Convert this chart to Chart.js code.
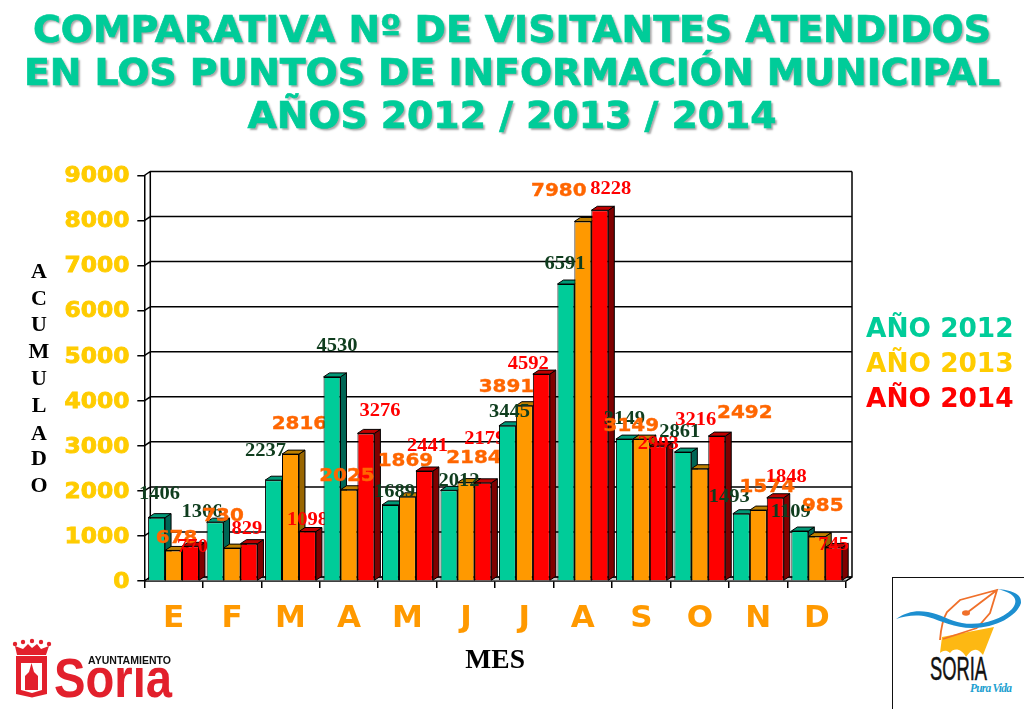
<!DOCTYPE html>
<html lang="es">
<head>
<meta charset="utf-8">
<title>Comparativa visitantes</title>
<script src="https://cdn.jsdelivr.net/npm/chart.js@4"></script>
<style>
    html, body { margin: 0; padding: 0; background: #fff; }
    #lienzo { position: relative; width: 1024px; height: 709px; overflow: hidden; }
    canvas { position: absolute; left: 0; top: 0; }
    .texto { position: absolute; font-family: "DejaVu Sans", sans-serif; font-weight: bold; }
    #titulo { left: 0; top: 7.5px; width: 1024px; text-align: center; font-size: 37.8px; line-height: 43.2px;
        color: #00cc99; -webkit-text-stroke: 0.7px #00cc99; text-shadow: 2px 2px 2px #a8a8a8; white-space: nowrap; }
    .leyenda { left: 866px; font-size: 26.4px; line-height: 30px; white-space: nowrap; }
    .vertical { left: 24px; width: 30px; text-align: center; font-family: "Liberation Serif", serif;
        font-size: 22px; line-height: 24px; color: #000; }
    svg { position: absolute; }
</style>
</head>
<body>
<div id="lienzo">
    <canvas id="grafico" width="1024" height="709"></canvas>
    <div id="titulo" class="texto">COMPARATIVA Nº DE VISITANTES ATENDIDOS<br>EN LOS PUNTOS DE INFORMACIÓN MUNICIPAL<br>AÑOS 2012 / 2013 / 2014</div>
    <div class="texto leyenda" style="top:313px;color:#00cc99">AÑO 2012</div>
    <div class="texto leyenda" style="top:348px;color:#ffcc00">AÑO 2013</div>
    <div class="texto leyenda" style="top:383px;color:#ff0000">AÑO 2014</div>
    <div id="acumulado"></div>

    <!-- logo ayuntamiento -->
    <svg style="left:0;top:630px" width="190" height="79" viewBox="0 0 190 79">
        <g fill="#e2202c">
            <path d="M17 25 L15 16 L23 19 L28 14 L32 18 L37 14 L41 19 L49 16 L46 25 Z"/>
            <circle cx="15" cy="14" r="2.2"/><circle cx="23" cy="12" r="2.2"/><circle cx="32" cy="11" r="2.2"/><circle cx="41" cy="12" r="2.2"/><circle cx="49" cy="14" r="2.2"/>
            <path d="M16 26 H47 V64 L32 67.5 L16 64 Z"/>
        </g>
        <path d="M21 33 H42 V60 L32 63 L21 60 Z" fill="#fff"/>
        <path d="M31.5 33 L34 42 L38 46 V60 H25 V46 L29 42 Z" fill="#e2202c"/>
        <text x="54" y="67" font-family="Liberation Sans" font-weight="bold" font-size="56" fill="#e2202c" textLength="118" lengthAdjust="spacingAndGlyphs">Soria</text>
        <rect x="88" y="22" width="90" height="15.5" fill="#fff"/>
        <text x="88" y="33.5" font-family="Liberation Sans" font-weight="bold" font-size="10.5" fill="#111" textLength="83" lengthAdjust="spacingAndGlyphs">AYUNTAMIENTO</text>
    </svg>

    <!-- logo soria pura vida -->
    <svg style="left:892px;top:577px" width="132" height="132" viewBox="0 0 132 132">
        <rect x="0.5" y="0.5" width="140" height="140" fill="#fff" stroke="#111" stroke-width="1"/>
        <path d="M50 60 L102 50 L91 78 C84 68 78 74 74 80 C70 72 62 70 58 76 C54 72 50 74 48 76 Z" fill="#fdb813"/>
        <path d="M48 63 C49 50 52 40 55 35 L68 23 L105 13 L98 36 L85 51 M51 62 L85 51 M105 13 L76 35" fill="none" stroke="#f0702a" stroke-width="1.8"/>
        <ellipse cx="74" cy="36" rx="4" ry="2.8" fill="#f0702a"/>
        <path d="M4 42 C14 35 24 33 36 35 C48 37 58 44 70 46 C86 49 108 44 120 32 C127 24 124 16 105 12 C118 13 130 16 129 26 C125 39 104 51 80 51 C62 51 50 44 36 40 C24 37 14 39 4 42 Z" fill="#1d8fd0"/>
        <text x="38" y="103" font-family="Liberation Sans" font-size="34" fill="#111" stroke="#111" stroke-width="0.5" textLength="57" lengthAdjust="spacingAndGlyphs">SORIA</text>
        <text x="78" y="115" font-family="Liberation Serif" font-style="italic" font-weight="bold" font-size="11.5" fill="#1d9fd0" textLength="42" lengthAdjust="spacing">Pura Vida</text>
    </svg>
</div>
<script>
// Datos del gráfico
const meses = ['E', 'F', 'M', 'A', 'M', 'J', 'J', 'A', 'S', 'O', 'N', 'D'];
const valores2012 = [1406, 1306, 2237, 4530, 1689, 2012, 3445, 6591, 3149, 2861, 1493, 1109];
const valores2013 = [678, 730, 2816, 2025, 1869, 2184, 3891, 7980, 3149, 2492, 1574, 985];
const valores2014 = [770, 829, 1098, 3276, 2441, 2179, 4592, 8228, 2993, 3216, 1848, 745];
const letrasEje = ['A', 'C', 'U', 'M', 'U', 'L', 'A', 'D', 'O'];

// Desplazamiento de cada etiqueta respecto a la parte alta de su barra [dx, dy]
const despl2012 = [[3,-24],[-13,-10],[-8,-29],[5,-31],[4,-13],[10,-9],[2,-14],[-1,-20],[0,-20],[-3,-20],[-12,-17],[-9,-19]];
const despl2013 = [[3,-12],[-9,-32],[9,-30],[-2,-13],[-2,-35],[8,-24],[-18,-18],[-24,-30],[-10,-13],[45,-55],[9,-23],[6,-30]];
const despl2014 = [[2,1],[-2,-15],[0,-11],[14,-22],[3,-25],[2,-44],[-13,-10],[11,-21],[0,-2],[-21,-16],[11,-21],[0,-2]];

// Letras verticales del eje Y
const posLetra = [271, 298, 324, 351, 378, 405, 433, 458, 485];
letrasEje.forEach((letra, i) => {
    const d = document.createElement('div');
    d.className = 'texto vertical';
    d.style.top = (posLetra[i] - 12) + 'px';
    d.textContent = letra;
    document.getElementById('acumulado').appendChild(d);
});

const FONDO_X = 6, FONDO_Y = 4;

const caras = [
    { lado: '#006655', arriba: '#009977', etiqueta: '#0f3d1e', fuente: 'bold 19px "Liberation Serif"', ancho: 1.08, grosor: 0, despl: despl2012 },
    { lado: '#996600', arriba: '#bf8000', etiqueta: '#ff6600', fuente: 'bold 17.5px "DejaVu Sans"', ancho: 1.14, grosor: 0.35, despl: despl2013 },
    { lado: '#7f0000', arriba: '#bf0000', etiqueta: '#ff0000', fuente: 'bold 19px "Liberation Serif"', ancho: 1.08, grosor: 0, despl: despl2014 }
];

function poligono(ctx, puntos, relleno) {
    ctx.beginPath();
    puntos.forEach((p, i) => i ? ctx.lineTo(p[0], p[1]) : ctx.moveTo(p[0], p[1]));
    ctx.closePath();
    ctx.fillStyle = relleno;
    ctx.fill();
    ctx.lineWidth = 1;
    ctx.strokeStyle = '#000';
    ctx.stroke();
}

// Texto ensanchado en horizontal y algo más grueso, como en el original
function textoAncho(ctx, texto, x, y, ancho, alinear, grosor) {
    ctx.save();
    ctx.translate(x, y);
    ctx.scale(ancho, 1);
    ctx.textAlign = alinear;
    ctx.textBaseline = 'middle';
    ctx.fillText(texto, 0, 0);
    if (grosor) {
        ctx.lineWidth = grosor;
        ctx.strokeStyle = ctx.fillStyle;
        ctx.strokeText(texto, 0, 0);
    }
    ctx.restore();
}

// Pared del fondo y rejilla desplazada
const paredes = {
    id: 'paredes',
    beforeDatasetsDraw(chart) {
        const { ctx, chartArea: a, scales } = chart;
        ctx.save();
        poligono(ctx, [[a.left, a.bottom], [a.left + FONDO_X, a.bottom - FONDO_Y], [a.right + FONDO_X, a.bottom - FONDO_Y], [a.right, a.bottom]], '#c8c8c8');
        ctx.strokeStyle = '#000';
        ctx.lineWidth = 1.5;
        ctx.beginPath();
        scales.y.ticks.forEach(t => {
            const y = scales.y.getPixelForValue(t.value);
            ctx.moveTo(a.left, y);
            ctx.lineTo(a.left + FONDO_X, y - FONDO_Y);
            ctx.lineTo(a.right + FONDO_X, y - FONDO_Y);
        });
        ctx.moveTo(a.left + FONDO_X, a.top - FONDO_Y);
        ctx.lineTo(a.left + FONDO_X, a.bottom - FONDO_Y);
        ctx.moveTo(a.right + FONDO_X, a.top - FONDO_Y);
        ctx.lineTo(a.right + FONDO_X, a.bottom - FONDO_Y);
        ctx.lineTo(a.right, a.bottom);
        ctx.stroke();

        // Números del eje Y, ensanchados
        ctx.font = 'bold 20.5px "DejaVu Sans"';
        ctx.fillStyle = '#ffcc00';
        scales.y.ticks.forEach(t => {
            textoAncho(ctx, String(t.value), 129.5, scales.y.getPixelForValue(t.value) + 1.5, 1.14, 'right', 0.8);
        });
        ctx.restore();
    }
};

// Dibuja barras 3D y etiquetas mes a mes: cada mes tapa las etiquetas del anterior
const barras3d = {
    id: 'barras3d',
    beforeDatasetsDraw(chart) {
        const ctx = chart.ctx;
        meses.forEach((mes, i) => {
            caras.forEach((c, s) => {
                const b = chart.getDatasetMeta(s).data[i];
                const izq = b.x - b.width / 2, der = b.x + b.width / 2;
                poligono(ctx, [[der, b.y], [der + FONDO_X, b.y - FONDO_Y], [der + FONDO_X, b.base - FONDO_Y], [der, b.base]], c.lado);
                poligono(ctx, [[izq, b.y], [izq + FONDO_X, b.y - FONDO_Y], [der + FONDO_X, b.y - FONDO_Y], [der, b.y]], c.arriba);
                b.draw(ctx);
            });
            caras.forEach((c, s) => {
                const b = chart.getDatasetMeta(s).data[i];
                ctx.save();
                ctx.font = c.fuente;
                ctx.fillStyle = c.etiqueta;
                textoAncho(ctx, String(chart.data.datasets[s].data[i]), b.x + c.despl[i][0], b.y + c.despl[i][1], c.ancho, 'center', c.grosor);
                ctx.restore();
            });
        });
        return false;
    }
};

new Chart(document.getElementById('grafico').getContext('2d'), {
    type: 'bar',
    data: {
        labels: meses,
        datasets: [
            { label: 'AÑO 2012', data: valores2012, backgroundColor: '#00cc99', borderColor: '#000', borderWidth: 1 },
            { label: 'AÑO 2013', data: valores2013, backgroundColor: '#ff9900', borderColor: '#000', borderWidth: 1 },
            { label: 'AÑO 2014', data: valores2014, backgroundColor: '#ff0000', borderColor: '#000', borderWidth: 1 }
        ]
    },
    plugins: [paredes, barras3d],
    options: {
        responsive: false,
        animation: false,
        layout: { padding: { top: 175.5, right: 178 } },
        datasets: { bar: { categoryPercentage: 0.87, barPercentage: 1 } },
        plugins: { legend: { display: false }, title: { display: false }, tooltip: { enabled: false } },
        scales: {
            x: {
                afterFit(escala) { escala.height = 128; },
                border: { color: '#000', width: 1.5 },
                grid: { drawOnChartArea: false, color: '#000', tickLength: 7, lineWidth: 1.5 },
                ticks: { padding: 12, color: '#ff9900', font: { family: 'DejaVu Sans', weight: 'bold', size: 31 }, maxRotation: 0, autoSkip: false },
                title: { display: true, text: 'MES', color: '#000', font: { family: 'Liberation Serif', weight: 'bold', size: 27.5 }, padding: { top: 0, bottom: 32 } }
            },
            y: {
                min: 0,
                max: 9000,
                afterFit(escala) { escala.width = 144.3; },
                border: { color: '#000', width: 1.5 },
                grid: { drawOnChartArea: false, color: '#000', tickLength: 7, lineWidth: 1.5 },
                ticks: { stepSize: 1000, display: false }
            }
        }
    }
});
</script>
</body>
</html>
